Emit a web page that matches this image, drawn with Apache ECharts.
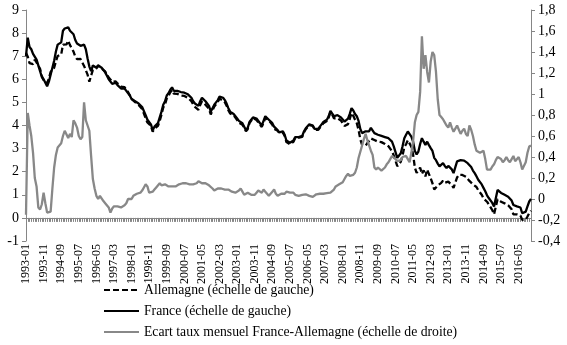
<!DOCTYPE html>
<html><head><meta charset="utf-8">
<script src="https://cdn.jsdelivr.net/npm/echarts@6/dist/echarts.min.js"></script>
<style>html,body{margin:0;padding:0;background:#fff}#c{width:567px;height:345px}</style>
</head><body><div id="c"></div>
<script>
// Monthly categories 1993-01 .. 2016-12
const months = [];
for (let y = 1993; y <= 2016; y++) for (let m = 1; m <= 12; m++) months.push(y + '-' + (m < 10 ? '0' + m : m));

const seriesNames = ['Allemagne (échelle de gauche)', 'France (échelle de gauche)', 'Ecart taux mensuel France-Allemagne (échelle de droite)'];

const france = [
7.0,7.8,7.4,7.3,7.1,7.05,6.85,6.6,6.35,6.1,6.0,5.85,
5.7,5.9,6.2,6.5,6.8,7.2,7.5,7.45,7.6,8.1,8.2,8.15,
8.25,8.1,8.15,7.95,7.7,7.55,7.48,7.45,7.4,7.5,7.3,6.9,
6.55,6.35,6.6,6.55,6.5,6.6,6.65,6.5,6.45,6.3,6.15,6.0,
5.95,5.8,5.75,5.85,5.75,5.7,5.6,5.55,5.6,5.5,5.45,5.3,
5.15,5.1,5.05,5.0,4.95,4.9,4.8,4.75,4.45,4.25,4.2,4.05,
3.8,3.95,4.0,4.1,4.35,4.6,4.9,5.05,5.3,5.4,5.55,5.65,
5.5,5.45,5.5,5.5,5.45,5.4,5.42,5.38,5.35,5.3,5.2,5.05,
4.95,4.9,4.85,5.05,5.2,5.15,5.05,5.0,4.85,4.6,4.75,4.9,
5.0,5.1,5.25,5.3,5.2,5.1,4.95,4.75,4.6,4.55,4.5,4.4,
4.3,4.2,4.15,4.1,3.95,3.8,3.9,4.15,4.25,4.35,4.4,4.3,
4.25,4.1,4.0,4.2,4.4,4.35,4.25,4.17,4.1,3.95,3.9,3.8,
3.7,3.65,3.75,3.6,3.35,3.3,3.25,3.25,3.35,3.5,3.45,3.5,
3.46,3.55,3.75,3.88,3.95,4.05,4.1,4.0,3.85,3.8,3.85,3.95,
4.05,4.15,4.1,4.25,4.4,4.63,4.55,4.4,4.4,4.45,4.45,4.35,
4.3,4.17,4.15,4.3,4.5,4.75,4.65,4.5,4.4,4.2,3.85,3.67,
3.65,3.75,3.8,3.75,3.9,3.85,3.67,3.65,3.6,3.6,3.55,3.58,
3.5,3.45,3.45,3.4,3.3,3.1,2.85,2.6,2.65,2.8,3.1,3.45,
3.6,3.74,3.7,3.52,3.3,2.9,2.75,2.87,3.2,3.45,3.3,3.16,
3.3,3.15,3.02,2.9,2.6,2.5,2.35,2.23,2.3,2.37,2.25,2.16,
2.25,2.3,2.1,1.94,2.2,2.45,2.52,2.5,2.51,2.48,2.4,2.37,
2.3,2.2,2.05,1.94,1.8,1.65,1.59,1.45,1.3,1.15,0.98,0.86,
0.8,0.65,0.49,0.85,1.21,1.15,1.08,1.05,1.0,0.95,0.92,0.9,
0.75,0.56,0.5,0.5,0.56,0.45,0.2,0.2,0.27,0.5,0.71,0.82
];

const allemagne = [
7.15,6.98,6.7,6.7,6.66,6.85,6.73,6.68,6.45,6.15,5.94,5.89,
5.83,6.03,6.32,6.4,6.5,6.78,7.01,6.95,7.07,7.5,7.55,7.51,
7.67,7.48,7.56,7.2,6.98,6.87,6.88,6.88,6.81,6.58,6.55,6.2,
5.9,5.94,6.41,6.45,6.47,6.6,6.62,6.46,6.47,6.34,6.2,6.08,
6.08,5.89,5.82,5.91,5.82,5.78,5.68,5.62,5.66,5.54,5.45,5.31,
5.15,5.07,5.01,4.95,4.89,4.84,4.72,4.64,4.31,4.13,4.14,3.99,
3.73,3.86,3.89,3.98,4.2,4.47,4.78,4.91,5.17,5.28,5.44,5.53,
5.38,5.33,5.37,5.36,5.3,5.25,5.28,5.23,5.2,5.16,5.05,4.91,
4.81,4.75,4.68,4.89,5.05,5.0,4.9,4.86,4.72,4.48,4.65,4.82,
4.92,5.0,5.15,5.2,5.1,5.01,4.86,4.66,4.52,4.48,4.44,4.34,
4.23,4.12,4.05,4.03,3.91,3.75,3.84,4.1,4.21,4.32,4.36,4.24,
4.17,4.03,3.94,4.11,4.33,4.3,4.22,4.13,4.03,3.86,3.85,3.77,
3.67,3.6,3.69,3.55,3.28,3.22,3.19,3.2,3.29,3.46,3.42,3.47,
3.43,3.51,3.7,3.84,3.91,4.02,4.08,3.98,3.82,3.76,3.81,3.9,
4.0,4.1,4.05,4.19,4.34,4.57,4.48,4.31,4.28,4.32,4.31,4.21,
4.14,3.98,3.93,4.06,4.28,4.54,4.42,4.25,4.1,3.81,3.4,3.16,
3.08,3.13,3.24,3.24,3.44,3.43,3.37,3.37,3.3,3.31,3.28,3.3,
3.2,3.12,3.1,3.02,2.89,2.7,2.47,2.24,2.3,2.43,2.7,3.06,
3.19,3.36,3.35,3.08,2.75,2.17,1.95,2.04,2.18,1.9,2.06,1.79,
2.09,2.04,1.71,1.5,1.23,1.29,1.4,1.43,1.52,1.61,1.52,1.46,
1.57,1.57,1.42,1.3,1.53,1.75,1.86,1.88,1.86,1.81,1.78,1.77,
1.6,1.54,1.45,1.42,1.34,1.2,1.15,1.0,0.84,0.77,0.7,0.58,
0.52,0.34,0.16,0.48,0.81,0.75,0.7,0.7,0.63,0.55,0.55,0.55,
0.37,0.15,0.14,0.15,0.16,0.1,-0.08,-0.08,-0.08,0.06,0.21,0.31
];

const ecart = [
-0.15,0.82,0.7,0.6,0.44,0.2,0.12,-0.08,-0.1,-0.05,0.06,-0.04,
-0.13,-0.13,-0.12,0.1,0.3,0.42,0.49,0.5,0.53,0.6,0.65,0.64,
0.58,0.62,0.59,0.75,0.72,0.68,0.6,0.57,0.59,0.92,0.75,0.7,
0.65,0.41,0.19,0.1,0.03,0.0,0.03,0.04,-0.02,-0.04,-0.05,-0.08,
-0.13,-0.09,-0.07,-0.06,-0.07,-0.08,-0.08,-0.07,-0.06,-0.04,0.0,-0.01,
0.0,0.03,0.04,0.05,0.06,0.06,0.08,0.11,0.14,0.12,0.06,0.06,
0.07,0.09,0.11,0.12,0.15,0.13,0.12,0.14,0.13,0.12,0.11,0.12,
0.12,0.12,0.13,0.14,0.15,0.15,0.14,0.15,0.15,0.14,0.15,0.14,
0.14,0.15,0.17,0.16,0.15,0.15,0.15,0.14,0.13,0.12,0.1,0.08,
0.08,0.1,0.1,0.1,0.1,0.09,0.09,0.09,0.08,0.07,0.06,0.06,
0.07,0.08,0.1,0.07,0.04,0.05,0.06,0.05,0.04,0.03,0.04,0.06,
0.08,0.07,0.06,0.09,0.07,0.05,0.03,0.04,0.07,0.09,0.05,0.03,
0.03,0.05,0.06,0.05,0.07,0.08,0.06,0.05,0.06,0.04,0.03,0.03,
0.03,0.04,0.05,0.045,0.04,0.03,0.02,0.02,0.03,0.045,0.04,0.05,
0.05,0.05,0.05,0.055,0.06,0.06,0.07,0.09,0.12,0.13,0.14,0.14,
0.16,0.19,0.22,0.24,0.22,0.21,0.23,0.25,0.3,0.39,0.45,0.51,
0.57,0.62,0.56,0.51,0.46,0.42,0.3,0.28,0.3,0.29,0.27,0.28,
0.3,0.33,0.35,0.38,0.41,0.4,0.38,0.36,0.35,0.37,0.4,0.39,
0.41,0.38,0.35,0.44,0.55,0.73,0.8,0.83,1.02,1.55,1.24,1.37,
1.21,1.11,1.31,1.4,1.37,1.21,0.95,0.8,0.78,0.76,0.73,0.7,
0.68,0.73,0.68,0.64,0.67,0.7,0.66,0.62,0.65,0.67,0.62,0.6,
0.7,0.66,0.6,0.52,0.46,0.45,0.44,0.45,0.46,0.38,0.28,0.28,
0.28,0.31,0.33,0.37,0.4,0.4,0.38,0.35,0.37,0.4,0.37,0.35,
0.38,0.41,0.36,0.35,0.4,0.35,0.28,0.28,0.35,0.44,0.5,0.51
];

const FONT = 'Liberation Serif';
const AXC = '#868686';
const chart = echarts.init(document.getElementById('c'), null, {renderer: 'canvas'});
const fmtComma = v => String(parseFloat(Number(v).toFixed(1))).replace('.', ',');

chart.setOption({
  animation: false,
  backgroundColor: '#fff',
  textStyle: {fontFamily: FONT, color: '#000'},
  grid: {left: 26, right: 36, top: 10, bottom: 104, containLabel: false},
  legend: {
    orient: 'vertical', left: 103, top: 283, height: 70, padding: 0,
    itemWidth: 35, itemHeight: 14, itemGap: 7,
    itemStyle: {opacity: 0},
    textStyle: {fontFamily: FONT, fontSize: 13.7, color: '#000'},
    data: seriesNames
  },
  xAxis: {
    type: 'category', data: months, boundaryGap: false,
    axisLine: {onZero: true, onZeroAxisIndex: 0, lineStyle: {color: AXC, width: 1}},
    axisTick: {show: true, interval: 0, length: 4, lineStyle: {color: AXC}},
    axisLabel: {interval: 9, rotate: 90, fontFamily: FONT, fontSize: 12, color: '#000', margin: 3},
    splitLine: {show: false}
  },
  yAxis: [
    {type: 'value', min: -1, max: 9, interval: 1, position: 'left',
     axisLine: {show: true, lineStyle: {color: AXC}},
     axisTick: {show: true, length: 4, lineStyle: {color: AXC}},
     axisLabel: {fontFamily: FONT, fontSize: 14, color: '#000', margin: 7},
     splitLine: {show: false}},
    {type: 'value', min: -0.4, max: 1.8, interval: 0.2, position: 'right',
     axisLine: {show: true, lineStyle: {color: AXC}},
     axisTick: {show: true, length: 4, lineStyle: {color: AXC}},
     axisLabel: {fontFamily: FONT, fontSize: 14, color: '#000', margin: 7, formatter: fmtComma},
     splitLine: {show: false}}
  ],
  series: [
    {name: seriesNames[0], type: 'line', yAxisIndex: 0, data: allemagne, symbol: 'none',
     lineStyle: {color: '#000', width: 2.3, type: [6, 3]}, itemStyle: {color: '#000'}},
    {name: seriesNames[1], type: 'line', yAxisIndex: 0, data: france, symbol: 'none',
     lineStyle: {color: '#000', width: 2.3}, itemStyle: {color: '#000'}},
    {name: seriesNames[2], type: 'line', yAxisIndex: 1, data: ecart, symbol: 'none',
     lineStyle: {color: '#888888', width: 2.3}, itemStyle: {color: '#888888'}}
  ]
});
</script></body></html>
